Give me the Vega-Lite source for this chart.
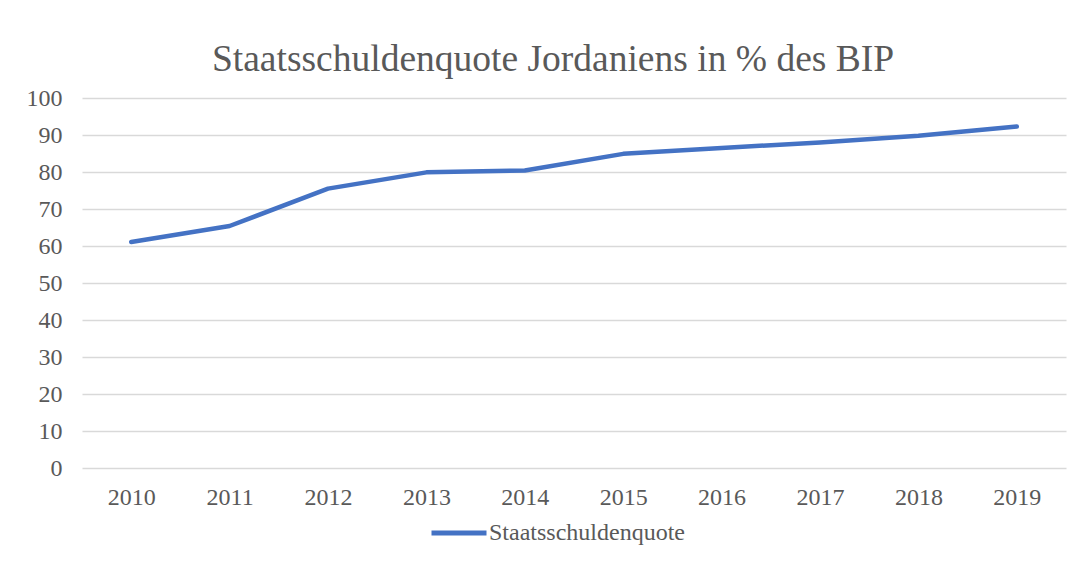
{
  "$schema": "https://vega.github.io/schema/vega-lite/v6.json",
  "autosize": "none",
  "width": 984,
  "height": 370,
  "padding": {"left": 82, "top": 98, "right": 17, "bottom": 119},
  "background": "white",
  "title": {
    "text": "Staatsschuldenquote Jordaniens in % des BIP",
    "font": "Liberation Serif",
    "fontSize": 37.5,
    "fontWeight": "normal",
    "color": "#595959",
    "anchor": "middle",
    "dx": -21,
    "offset": 8
  },
  "data": {
    "values": [
      {"Jahr": "2010", "Wert": 61.1, "Serie": "Staatsschuldenquote"},
      {"Jahr": "2011", "Wert": 65.4, "Serie": "Staatsschuldenquote"},
      {"Jahr": "2012", "Wert": 75.5, "Serie": "Staatsschuldenquote"},
      {"Jahr": "2013", "Wert": 79.9, "Serie": "Staatsschuldenquote"},
      {"Jahr": "2014", "Wert": 80.4, "Serie": "Staatsschuldenquote"},
      {"Jahr": "2015", "Wert": 84.9, "Serie": "Staatsschuldenquote"},
      {"Jahr": "2016", "Wert": 86.5, "Serie": "Staatsschuldenquote"},
      {"Jahr": "2017", "Wert": 88.0, "Serie": "Staatsschuldenquote"},
      {"Jahr": "2018", "Wert": 89.8, "Serie": "Staatsschuldenquote"},
      {"Jahr": "2019", "Wert": 92.3, "Serie": "Staatsschuldenquote"}
    ]
  },
  "mark": {"type": "line", "strokeWidth": 4.5, "strokeCap": "round", "strokeJoin": "round"},
  "encoding": {
    "x": {
      "field": "Jahr",
      "type": "ordinal",
      "scale": {"type": "point", "padding": 0.5},
      "axis": {
        "title": null,
        "labelAngle": 0,
        "labelFont": "Liberation Serif",
        "labelFontSize": 24,
        "labelColor": "#595959",
        "labelPadding": 17,
        "ticks": false,
        "domain": false,
        "grid": false
      }
    },
    "y": {
      "field": "Wert",
      "type": "quantitative",
      "scale": {"domain": [0, 100]},
      "axis": {
        "title": null,
        "values": [0, 10, 20, 30, 40, 50, 60, 70, 80, 90, 100],
        "labelFont": "Liberation Serif",
        "labelFontSize": 24,
        "labelColor": "#595959",
        "labelPadding": 20,
        "ticks": false,
        "domain": false,
        "grid": true,
        "gridColor": "#d9d9d9",
        "gridWidth": 1.5
      }
    },
    "color": {
      "field": "Serie",
      "type": "nominal",
      "scale": {"range": ["#4472c4"]},
      "legend": {
        "title": null,
        "orient": "none",
        "legendX": 347,
        "legendY": 405,
        "symbolType": "stroke",
        "symbolSize": 3025,
        "symbolStrokeWidth": 5,
        "labelFont": "Liberation Serif",
        "labelFontSize": 24,
        "labelLimit": 0,
        "labelColor": "#595959",
        "labelOffset": 0
      }
    }
  },
  "config": {"view": {"stroke": null}}
}
